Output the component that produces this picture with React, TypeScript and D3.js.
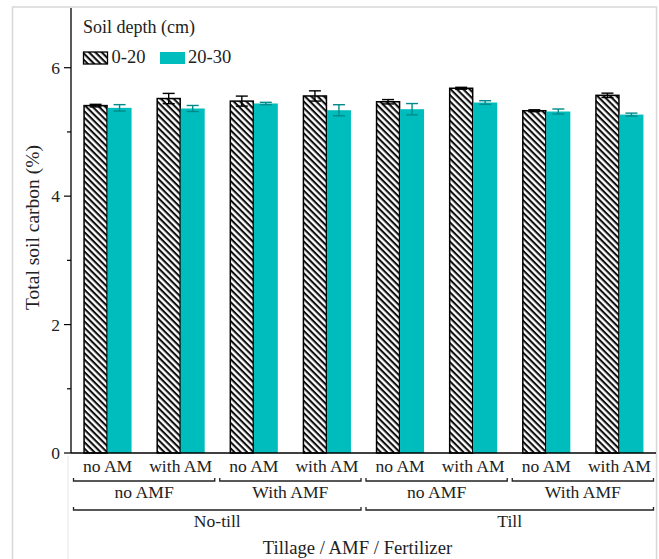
import React from "react";
import * as d3 from "d3";

const tillage = ["No-till", "Till"];
const amf = ["no AMF", "With AMF"];
const fert = ["no AM", "with AM"];
const depths = ["0-20", "20-30"];
// order: No-till/noAMF/noAM, No-till/noAMF/withAM, No-till/WithAMF/noAM, ... Till/WithAMF/withAM
const mean0_20 = [5.41, 5.52, 5.48, 5.56, 5.47, 5.68, 5.33, 5.57];
const err0_20 = [0.02, 0.08, 0.078, 0.08, 0.034, 0.015, 0.015, 0.034];
const mean20_30 = [5.375, 5.365, 5.443, 5.338, 5.354, 5.458, 5.318, 5.27];
const err20_30 = [0.05, 0.047, 0.018, 0.086, 0.088, 0.028, 0.039, 0.023];
const yTicks = [0, 2, 4, 6];
const yMinor = [1, 3, 5];

const W = 659;
const H = 559;
const FONT = "Liberation Serif";
const TEAL = "#00BDBD";
const TEAL_ERR = "#008A8A";

export default function App() {
  const left = 71;
  const right = 656;
  const top = 8;
  const bottom = 453;

  const cats: string[] = [];
  tillage.forEach((t) => amf.forEach((a) => fert.forEach((f) => cats.push(`${t}|${a}|${f}`))));

  const x = d3.scaleBand<string>().domain(cats).range([left, right]).paddingInner(0).paddingOuter(0);
  const bw = x.bandwidth();
  const barW = 24;
  const y = d3.scaleLinear().domain([0, 6.93]).range([bottom, top]);

  const series = [
    { name: depths[0], mean: mean0_20, err: err0_20 },
    { name: depths[1], mean: mean20_30, err: err20_30 },
  ];

  const bracket = (x0: number, x1: number, yy: number, key: string) => (
    <path
      key={key}
      d={`M${x0},${yy - 3}V${yy}H${x1}V${yy - 3}`}
      fill="none"
      stroke="#222"
      strokeWidth={1.3}
    />
  );

  const amfGroups: { label: string; x0: number; x1: number }[] = [];
  tillage.forEach((t) =>
    amf.forEach((a) => {
      const c0 = x(`${t}|${a}|${fert[0]}`)!;
      const c1 = x(`${t}|${a}|${fert[1]}`)! + bw;
      amfGroups.push({ label: a, x0: c0, x1: c1 });
    })
  );
  const tillGroups = tillage.map((t) => ({
    label: t,
    x0: x(`${t}|${amf[0]}|${fert[0]}`)!,
    x1: x(`${t}|${amf[1]}|${fert[1]}`)! + bw,
  }));

  const txt = (fs: number) => ({ fontSize: fs, fill: "#222", style: { fontFamily: FONT } });

  return (
    <svg width={W} height={H} style={{ position: "absolute", left: 0, top: 0, background: "#fff", fontFamily: FONT }}>
      <defs>
        <pattern id="hatch" patternUnits="userSpaceOnUse" width={4.5} height={4.5} patternTransform="rotate(45)">
          <rect x={0} y={0} width={4.5} height={4.5} fill="#fff" />
          <rect x={0} y={0} width={4.5} height={2.1} fill="#111" />
        </pattern>
      </defs>
      {/* outer frame */}
      <path d={`M12.5,${H}V7H656.5V${H}`} fill="none" stroke="#d8d8d8" strokeWidth={1.5} />
      <line x1={68} x2={68} y1={456} y2={H} stroke="#e4e4e4" strokeWidth={1} />

      {/* bars */}
      {cats.map((c, i) => {
        const cx = x(c)! + bw / 2;
        return (
          <g key={c}>
            {series.map((s, j) => {
              const bx = cx - barW + j * barW;
              const v = s.mean[i];
              const e = s.err[i];
              const isH = j === 0;
              const bcx = bx + barW / 2;
              return (
                <g key={s.name}>
                  <rect
                    x={bx + (isH ? 0.5 : 0)}
                    y={y(v)}
                    width={barW - (isH ? 1 : 0)}
                    height={bottom - y(v)}
                    fill={isH ? "url(#hatch)" : TEAL}
                    stroke={isH ? "#000" : "none"}
                    strokeWidth={1.5}
                  />
                  <g stroke={isH ? "#000" : TEAL_ERR} strokeWidth={1.4}>
                    <line x1={bcx} x2={bcx} y1={y(v + e)} y2={y(v - e)} />
                    <line x1={bcx - 6} x2={bcx + 6} y1={y(v + e)} y2={y(v + e)} />
                    <line x1={bcx - 6} x2={bcx + 6} y1={y(v - e)} y2={y(v - e)} />
                  </g>
                </g>
              );
            })}
          </g>
        );
      })}

      {/* y axis */}
      <line x1={left} x2={left} y1={top} y2={bottom} stroke="#000" strokeWidth={1.3} />
      {yTicks.map((t) => (
        <g key={t}>
          <line x1={left - 7} x2={left} y1={y(t)} y2={y(t)} stroke="#000" strokeWidth={1.2} />
          <text x={left - 11} y={y(t)} dy="0.34em" textAnchor="end" {...txt(17.5)}>
            {t}
          </text>
        </g>
      ))}
      {yMinor.map((t) => (
        <line key={t} x1={left - 4} x2={left} y1={y(t)} y2={y(t)} stroke="#000" strokeWidth={1.2} />
      ))}
      <text transform={`translate(39,227.5) rotate(-90)`} textAnchor="middle" {...txt(19.5)}>
        Total soil carbon (%)
      </text>

      {/* x axis */}
      <line x1={left} x2={right} y1={bottom} y2={bottom} stroke="#000" strokeWidth={1.3} />
      {cats.map((c) => (
        <text key={c} x={x(c)! + bw / 2} y={471.5} textAnchor="middle" {...txt(17.6)}>
          {c.split("|")[2]}
        </text>
      ))}
      {amfGroups.map((g, i) => (
        <g key={i}>
          {bracket(g.x0 + 2.5, g.x1 - 2.5, 481, `b1${i}`)}
          <text x={(g.x0 + g.x1) / 2} y={498} textAnchor="middle" {...txt(17.6)}>
            {g.label}
          </text>
        </g>
      ))}
      {tillGroups.map((g, i) => (
        <g key={i}>
          {bracket(g.x0 + 2.5, g.x1 - 2.5, 510, `b2${i}`)}
          <text x={(g.x0 + g.x1) / 2} y={526.5} textAnchor="middle" {...txt(17.6)}>
            {g.label}
          </text>
        </g>
      ))}
      <text x={357.5} y={553.5} textAnchor="middle" {...txt(18.7)}>
        Tillage / AMF / Fertilizer
      </text>

      {/* legend */}
      <text x={83} y={33} {...txt(18)}>
        Soil depth (cm)
      </text>
      <rect x={83.5} y={52} width={24} height={12} fill="url(#hatch)" stroke="#000" strokeWidth={1.3} />
      <text x={111.5} y={62.5} {...txt(18.5)}>
        {depths[0]}
      </text>
      <rect x={160} y={52} width={25} height={12} fill={TEAL} />
      <text x={188} y={62.5} {...txt(18.5)}>
        {depths[1]}
      </text>
    </svg>
  );
}
